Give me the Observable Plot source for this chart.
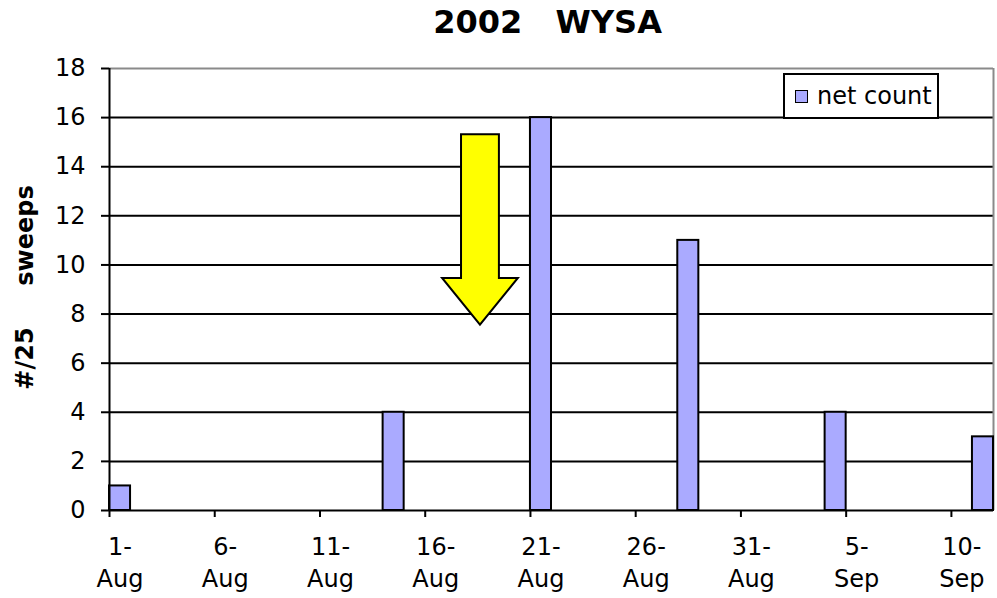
<!DOCTYPE html>
<html><head><meta charset="utf-8">
<script src="https://cdn.jsdelivr.net/npm/d3@7"></script>
<script src="https://cdn.jsdelivr.net/npm/@observablehq/plot@0.6"></script>
<style>
body{margin:0;background:#fff;}
#wrap{position:relative;width:997px;height:598px;font-family:"DejaVu Sans",sans-serif;}
#legend{position:absolute;z-index:2;left:783px;top:73px;width:152px;height:42px;border:2px solid #000;background:#fff;display:flex;align-items:center;font-size:24px;color:#000;}
#legend .sw{display:inline-block;width:11px;height:11px;background:#aaaaff;border:1.5px solid #000;margin-left:10px;margin-right:9px;}
</style></head>
<body>
<div id="wrap"><div id="legend"><span class="sw"></span><span>net count</span></div></div>
<script>
// ---- data ----
const barDates = ["2002-08-01","2002-08-14","2002-08-21","2002-08-28","2002-09-04","2002-09-11"];
const barValues = [1, 4, 16, 11, 4, 3];
const xDomain = ["2002-08-01","2002-09-12"];
const tickDates = ["2002-08-01","2002-08-06","2002-08-11","2002-08-16","2002-08-21","2002-08-26","2002-08-31","2002-09-05","2002-09-10"];
const tickLabels = ["1-\nAug","6-\nAug","11-\nAug","16-\nAug","21-\nAug","26-\nAug","31-\nAug","5-\nSep","10-\nSep"];
const yTicks = [0,2,4,6,8,10,12,14,16,18];
const titleText = "2002\u00a0\u00a0 WYSA";
const yLabelParts = ["sweeps", "#/25"];
// arrow annotation (data units)
const arrowDate = "2002-08-18T15:00Z";
const arrowTop = 15.3, arrowNeck = 9.45, arrowTip = 7.55;
const arrowShaftHalfDays = 0.9, arrowHeadHalfDays = 1.8;

const data = barDates.map((d, i) => ({date: new Date(d), value: barValues[i]}));
const ticks = tickDates.map(d => new Date(d));
const labelOf = new Map(ticks.map((d, i) => [+d, tickLabels[i]]));
const dom = xDomain.map(d => new Date(d));
const font = "DejaVu Sans, sans-serif";

const chart = Plot.plot({
  width: 997, height: 598,
  marginLeft: 109, marginRight: 4, marginTop: 68, marginBottom: 88,
  style: {fontFamily: font, fontSize: "24px", color: "#000", background: "#fff", overflow: "visible"},
  x: {type: "utc", domain: dom, axis: null},
  y: {domain: [0, 18], axis: null},
  marks: [
    Plot.gridY(yTicks.filter(v => v > 0 && v < 18), {stroke: "#000", strokeOpacity: 1, strokeWidth: 2}),
    Plot.ruleY([18], {stroke: "#8a8a8a", strokeWidth: 2}),
    Plot.ruleX([dom[1]], {stroke: "#8a8a8a", strokeWidth: 2}),
    Plot.rectY(data, {x: "date", y: "value", interval: "day", fill: "#aaaaff", stroke: "#000", strokeWidth: 2, inset: 0}),
    Plot.axisY(yTicks, {tickSize: 8, tickPadding: 16, stroke: "#000", strokeWidth: 2, fontSize: 24, label: null}),
    Plot.axisX(ticks, {tickSize: 7, tickFormat: () => "", stroke: "#000", strokeWidth: 2, label: null}),
    Plot.axisX(ticks, {tickSize: 0, tickPadding: 21, dx: 10.5, lineHeight: 1.36, fontSize: 24, tickFormat: d => labelOf.get(+d), label: null}),
    Plot.ruleX([dom[0]], {stroke: "#000", strokeWidth: 2}),
    Plot.ruleY([0], {stroke: "#000", strokeWidth: 2}),
    Plot.text([titleText], {text: d => d, frameAnchor: "top", textAnchor: "middle", lineAnchor: "middle", dy: -46, dx: -4, fontSize: 32, fontWeight: "bold"}),
    Plot.text([yLabelParts[0]], {text: d => d, frameAnchor: "left", textAnchor: "middle", lineAnchor: "middle", rotate: -90, dx: -84, dy: -54, fontSize: 24, fontWeight: "bold"}),
    Plot.text([yLabelParts[1]], {text: d => d, frameAnchor: "left", textAnchor: "middle", lineAnchor: "middle", rotate: -90, dx: -84, dy: 69, fontSize: 24, fontWeight: "bold"})
  ]
});

// arrow annotation through the chart's scales
const xs = chart.scale("x"), ys = chart.scale("y");
const day = 864e5;
const ad = new Date(arrowDate).getTime();
const X = t => xs.apply(new Date(t));
const Y = v => ys.apply(v);
const pts = [
  [X(ad - arrowShaftHalfDays*day), Y(arrowTop)],
  [X(ad + arrowShaftHalfDays*day), Y(arrowTop)],
  [X(ad + arrowShaftHalfDays*day), Y(arrowNeck)],
  [X(ad + arrowHeadHalfDays*day), Y(arrowNeck)],
  [X(ad), Y(arrowTip)],
  [X(ad - arrowHeadHalfDays*day), Y(arrowNeck)],
  [X(ad - arrowShaftHalfDays*day), Y(arrowNeck)]
];
d3.select(chart).append("polygon")
  .attr("points", pts.map(p => p.join(",")).join(" "))
  .attr("fill", "#ffff00").attr("stroke", "#000").attr("stroke-width", 2).attr("stroke-linejoin", "miter");

document.getElementById("wrap").prepend(chart);
</script>
</body></html>
